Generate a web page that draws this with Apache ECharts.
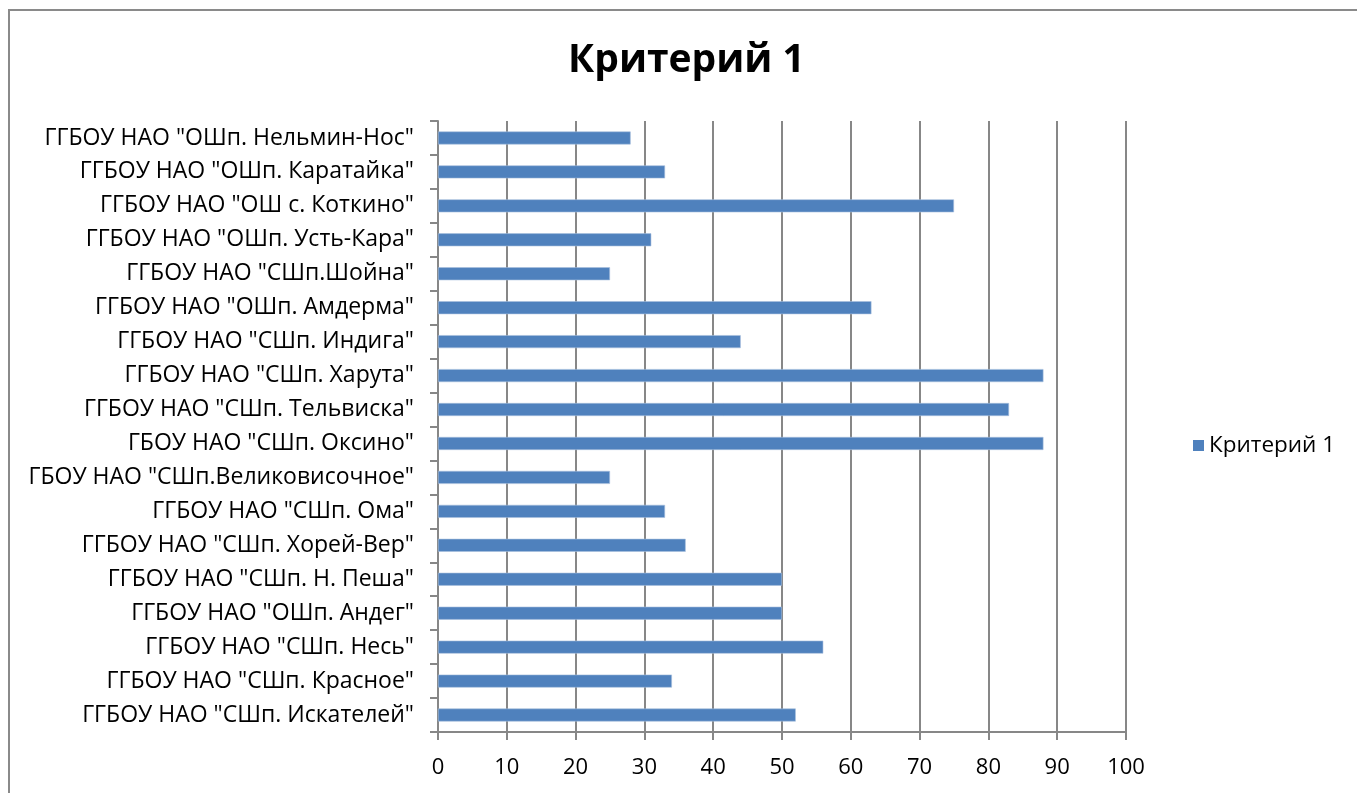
<!DOCTYPE html>
<html><head><meta charset="utf-8">
<script src="https://cdn.jsdelivr.net/npm/echarts@6/dist/echarts.min.js"></script>
<style>html,body{margin:0;padding:0;background:#fff;overflow:hidden}#c{width:1357px;height:793px}
#frame{position:absolute;left:8px;top:9px;width:1400px;height:800px;border:2px solid #8a8a8a;box-sizing:border-box;pointer-events:none}</style>
</head><body><div id="c"></div><div id="frame"></div>
<script>
const categories = [
 'ГГБОУ НАО "ОШп. Нельмин-Нос"',
 'ГГБОУ НАО "ОШп. Каратайка"',
 'ГГБОУ НАО "ОШ с. Коткино"',
 'ГГБОУ НАО "ОШп. Усть-Кара"',
 'ГГБОУ НАО "СШп.Шойна"',
 'ГГБОУ НАО "ОШп. Амдерма"',
 'ГГБОУ НАО "СШп. Индига"',
 'ГГБОУ НАО "СШп. Харута"',
 'ГГБОУ НАО "СШп. Тельвиска"',
 'ГБОУ НАО "СШп. Оксино"',
 'ГБОУ НАО "СШп.Великовисочное"',
 'ГГБОУ НАО "СШп. Ома"',
 'ГГБОУ НАО "СШп. Хорей-Вер"',
 'ГГБОУ НАО "СШп. Н. Пеша"',
 'ГГБОУ НАО "ОШп. Андег"',
 'ГГБОУ НАО "СШп. Несь"',
 'ГГБОУ НАО "СШп. Красное"',
 'ГГБОУ НАО "СШп. Искателей"'
];
const values = [28, 33, 75, 31, 25, 63, 44, 88, 83, 88, 25, 33, 36, 50, 50, 56, 34, 52];
const seriesName = 'Критерий 1';
const titleText = 'Критерий 1';

const font = '"Open Sans", "Noto Sans", sans-serif';
const chart = echarts.init(document.getElementById('c'));
chart.setOption({
  animation: false,
  title: {text: titleText, left: 563, top: 36,
    textStyle: {fontFamily: font, fontSize: 39, fontWeight: 'bold', color: '#000'}},
  legend: {data: [seriesName], left: 1188, top: 429, orient: 'vertical',
    itemWidth: 11, itemHeight: 11, itemGap: 6, icon: 'rect',
    itemStyle: {borderWidth: 0, color: '#4F81BD'},
    textStyle: {fontFamily: font, fontSize: 22.5, color: '#000'}},
  grid: {left: 438, right: 231, top: 121, bottom: 61, containLabel: false},
  xAxis: {type: 'value', min: 0, max: 100, interval: 10,
    axisLine: {show: true, lineStyle: {color: '#878787', width: 2}},
    axisTick: {show: true, length: 8, lineStyle: {color: '#878787', width: 2}},
    splitLine: {show: true, lineStyle: {color: '#878787', width: 2}},
    axisLabel: {fontFamily: font, fontSize: 22, color: '#000', margin: 25}},
  yAxis: {type: 'category', data: categories, inverse: true,
    axisLine: {show: true, lineStyle: {color: '#878787', width: 2}},
    axisTick: {show: true, length: 8, lineStyle: {color: '#878787', width: 2}},
    axisLabel: {fontFamily: font, fontSize: 23, color: '#000', margin: 24}},
  series: [{name: seriesName, type: 'bar', data: values, barWidth: 13,
    itemStyle: {color: '#4F81BD', borderColor: '#A7C0DE', borderWidth: 0.6}}]
});
</script></body></html>
